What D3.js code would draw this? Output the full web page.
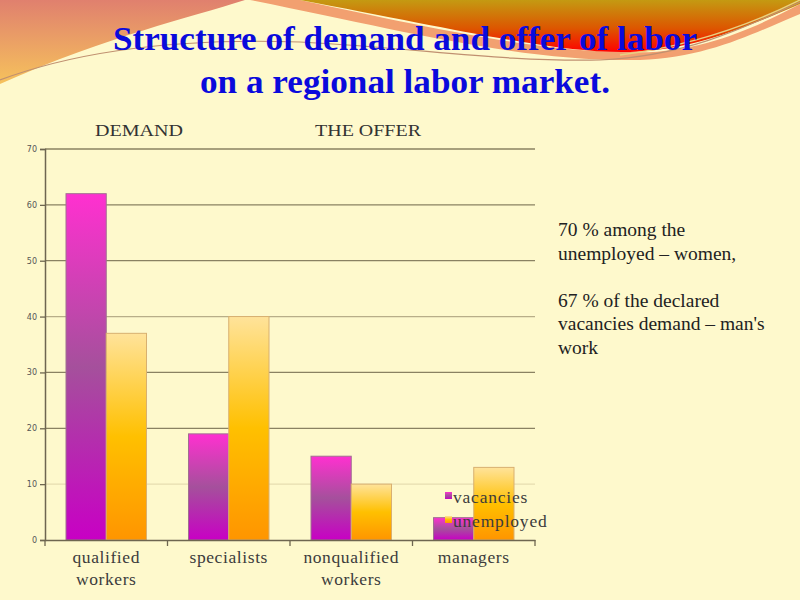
<!DOCTYPE html>
<html><head><meta charset="utf-8">
<script src="https://cdn.jsdelivr.net/npm/d3@7"></script>
<style>html,body{margin:0;padding:0;background:#FEF9CC;}svg{display:block;}</style>
</head><body>
<script>
const categories = [["qualified","workers"],["specialists"],["nonqualified","workers"],["managers"]];
const categoryKeys = ["qualified workers","specialists","nonqualified workers","managers"];
const seriesNames = ["vacancies","unemployed"];
const vacancies = [62, 19, 15, 4];
const unemployed = [37, 40, 10, 13];
const yTicks = [0,10,20,30,40,50,60,70];
const titleLines = ["Structure of demand and offer of labor","on a regional labor market."];
const headers = ["DEMAND","THE OFFER"];
const noteLines = ["70 % among the","unemployed – women,","","67 % of the declared","vacancies demand – man's","work"];

const W=800,H=600;
const svg=d3.select("body").append("svg").attr("width",W).attr("height",H);
const defs=svg.append("defs");
function lg(id,stops){const g=defs.append("linearGradient").attr("id",id).attr("x1",0).attr("y1",0).attr("x2",0).attr("y2",1);
 stops.forEach(s=>g.append("stop").attr("offset",s[0]).attr("stop-color",s[1]));}
lg("gVac",[[0,"#FF30D0"],[0.5,"#A5509C"],[1,"#C800C4"]]);
lg("gUne",[[0,"#FFE39A"],[0.5,"#FFC000"],[1,"#FF9500"]]);
lg("gTL",[[0,"#E0806E"],[1,"#F6C25C"]]);
lg("gTR",[[0,"#C49A12"],[0.55,"#DD5500"],[1,"#FF0000"]]);

// background
svg.append("rect").attr("width",W).attr("height",H).attr("fill","#FEF9CC");
// decoration
svg.append("path").attr("d","M0,0 L245,0 C190,18 110,35 0,84 Z").attr("fill","url(#gTL)");
svg.append("path").attr("d","M250,0 C400,30 520,62 640,60 C710,58 760,30 800,14 L800,4 C760,25 700,55 630,52 C540,52 440,30 300,0 Z").attr("fill","#F2A070");
svg.append("path").attr("d","M300,0 L800,0 L800,4 C740,30 690,50 630,52 C560,54 460,30 300,0 Z").attr("fill","url(#gTR)");
svg.append("path").attr("d","M0,80 C80,50 180,38 300,42 C420,48 500,62 600,60 C690,56 750,25 800,2").attr("fill","none").attr("stroke","#C09070").attr("stroke-width",1.2);
svg.append("path").attr("d","M620,55 C700,45 760,20 800,0").attr("fill","none").attr("stroke","#E8D080").attr("stroke-width",1.5);

// title
svg.selectAll("text.title").data(titleLines).join("text").attr("class","title")
 .attr("x",405).attr("y",(d,i)=>50+i*43).attr("text-anchor","middle")
 .attr("font-family","Liberation Serif, serif").attr("font-weight","bold").attr("font-size",33)
 .attr("fill","#0A0ADC").attr("textLength",(d,i)=>i?410:584).attr("lengthAdjust","spacingAndGlyphs")
 .text(d=>d);

// chart
const x0=45,x1=535,yBot=540,yTop=149;
const y=d3.scaleLinear().domain([0,70]).range([yBot,yTop]);
const xb=d3.scaleBand().domain(categoryKeys).range([x0,x1]).padding(0);
const xs=d3.scaleBand().domain(seriesNames).range([21,xb.bandwidth()-21]).padding(0);
const g=svg.append("g");

// gridlines
g.selectAll("line.grid").data(yTicks.filter(t=>t>0)).join("line")
 .attr("x1",x0).attr("x2",x1).attr("y1",d=>y(d)).attr("y2",d=>y(d))
 .attr("stroke",d=>d===10?"#E6DDB0":(d===40?"#B8AE88":"#8A8262")).attr("stroke-width",1.3);

// y axis
const yAxis=g.append("g").attr("transform",`translate(${x0},0)`)
 .call(d3.axisLeft(y).tickValues(yTicks).tickSize(5).tickPadding(3));
yAxis.select(".domain").attr("stroke","#6E6650").attr("stroke-width",1.5);
yAxis.selectAll(".tick line").attr("stroke","#6E6650").attr("stroke-width",1.3);
yAxis.selectAll(".tick text").attr("font-family","DejaVu Sans, sans-serif").attr("font-size",8).attr("fill","#555");

// bars
const data=categoryKeys.map((c,i)=>({c,vals:[{s:"vacancies",v:vacancies[i]},{s:"unemployed",v:unemployed[i]}]}));
const grp=g.selectAll("g.cat").data(data).join("g").attr("transform",d=>`translate(${xb(d.c)},0)`);
grp.selectAll("rect").data(d=>d.vals).join("rect")
 .attr("x",d=>xs(d.s)).attr("width",xs.bandwidth())
 .attr("y",d=>y(d.v)).attr("height",d=>yBot-y(d.v))
 .attr("fill",d=>d.s==="vacancies"?"url(#gVac)":"url(#gUne)")
 .attr("stroke",d=>d.s==="vacancies"?"#A07090":"#D8B070").attr("stroke-width",1);

// x axis
const xAxis=g.append("g").attr("transform",`translate(0,${yBot})`)
 .call(d3.axisBottom(xb).tickSize(0).tickFormat(""));
xAxis.select(".domain").attr("stroke","#6E6650").attr("stroke-width",1.5);
const bounds=categoryKeys.map(c=>xb(c)).concat([x1]);
g.selectAll("line.xt").data(bounds).join("line").attr("x1",d=>d).attr("x2",d=>d)
 .attr("y1",yBot).attr("y2",yBot+6).attr("stroke","#6E6650").attr("stroke-width",1.3);
g.selectAll("text.cat").data(categories).join("text").attr("class","cat")
 .attr("x",(d,i)=>xb(categoryKeys[i])+xb.bandwidth()/2).attr("y",563)
 .attr("text-anchor","middle").attr("font-family","Liberation Serif, serif").attr("font-size",17.5)
 .attr("letter-spacing",0.6).attr("fill","#3C3C3C")
 .each(function(d){const t=d3.select(this);d.forEach((l,j)=>t.append("tspan").attr("x",t.attr("x")).attr("dy",j?22:0).text(l));});

// headers
svg.selectAll("text.hdr").data(headers).join("text").attr("class","hdr")
 .attr("x",(d,i)=>i?368:139).attr("y",136).attr("text-anchor","middle")
 .attr("font-family","Liberation Serif, serif").attr("font-size",17).attr("fill","#333")
 .attr("textLength",(d,i)=>i?106:88).attr("lengthAdjust","spacingAndGlyphs").text(d=>d);

// legend
const leg=svg.append("g");
seriesNames.forEach((s,i)=>{
 leg.append("rect").attr("x",445).attr("y",492+i*24).attr("width",7).attr("height",7)
  .attr("fill",i?"url(#gUne)":"url(#gVac)");
 leg.append("text").attr("x",453).attr("y",503+i*24).attr("font-family","Liberation Serif, serif")
  .attr("font-size",17.5).attr("letter-spacing",0.8).attr("fill","#3C3C3C").text(s);
});

// note
svg.selectAll("text.note").data(noteLines).join("text").attr("class","note")
 .attr("x",558).attr("y",(d,i)=>236+i*23.5).attr("font-family","Liberation Serif, serif")
 .attr("font-size",19.5).attr("fill","#222").text(d=>d);
</script>
</body></html>
